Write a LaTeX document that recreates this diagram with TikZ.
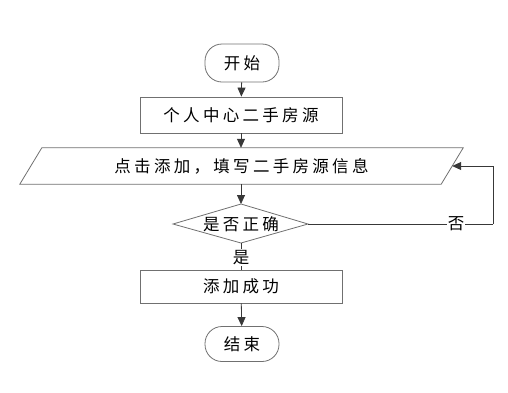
\documentclass[tikz,border=0pt]{standalone}
\usepackage{fontspec}
\setmainfont{Liberation Serif}
\newfontfamily\cjk[LetterSpace=20]{Noto Sans CJK SC}
\usetikzlibrary{arrows.meta}
\definecolor{lc}{HTML}{383838}
\definecolor{bc}{HTML}{707070}
\begin{document}
\begin{tikzpicture}[x=1pt,y=-1pt,
  every node/.style={font=\cjk\fontsize{16.5}{19}\selectfont, text=black, inner sep=0pt},
  term/.style={draw=bc, line width=0.8pt, rounded corners=17pt, minimum width=74pt},
  proc/.style={draw=bc, line width=0.8pt, minimum width=202pt},
  conn/.style={draw=lc, line width=0.8pt, -{Triangle[length=9pt,width=8pt]}},
  lab/.style={fill=white, inner sep=1pt}]
\useasboundingbox (0,0) rectangle (508,392);
\node[term, minimum height=38pt] (s) at (242,63) {开始};
\node[proc, minimum height=36pt] (b1) at (241,115) {个人中心二手房源};
\node[minimum width=421pt, minimum height=36pt] (p) at (241.5,166) {点击添加，填写二手房源信息};
\draw[bc, line width=0.8pt] ([xshift=11pt]p.north west) -- ([xshift=11pt]p.north east) -- ([xshift=-11pt]p.south east) -- ([xshift=-11pt]p.south west) -- cycle;
\coordinate (dt) at (241,204);
\coordinate (dr) at (308,224);
\coordinate (db) at (241,243);
\coordinate (dl) at (173,224);
\draw[bc, line width=0.8pt] (dt) -- (dr) -- (db) -- (dl) -- cycle;
\node (d) at (241,224) {是否正确};
\node[proc, minimum height=33pt] (b2) at (241,286.5) {添加成功};
\node[term, minimum height=35pt] (e) at (242,344) {结束};
\coordinate (c1) at (493,224);
\coordinate (c2) at (493,166);
\draw[conn] (s) -- (b1);
\draw[conn] (b1) -- (b1 |- p.north);
\draw[conn] (p.south -| dt) -- (dt);
\draw[lc, line width=0.8pt] (db) -- (b2) node[lab, pos=0.55] (yes) {是};
\draw[conn] (b2) -- (e);
\draw[conn, -] (dr) -- (c1) node[lab, pos=0.8] (no) {否};
\draw[conn] (c1) -- (c2) -- (p.east);
\end{tikzpicture}
\end{document}
